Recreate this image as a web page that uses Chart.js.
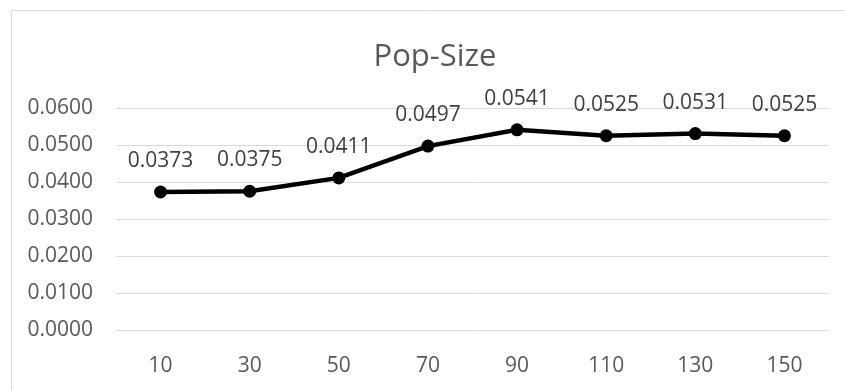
<!DOCTYPE html>
<html lang="en">
<head>
    <meta charset="UTF-8">
    <title>Pop-Size</title>
    <script src="https://cdn.jsdelivr.net/npm/chart.js"></script>
    <style>
        html, body {
            margin: 0;
            padding: 0;
            background: #ffffff;
        }
        .chart-container {
            position: relative;
            width: 845px;
            height: 390px;
        }
    </style>
</head>
<body>
    <div class="chart-container">
        <canvas id="popChart"></canvas>
    </div>

    <script>
        // Data
        const popSizes = ['10', '30', '50', '70', '90', '110', '130', '150'];
        const values = [0.0373, 0.0375, 0.0411, 0.0497, 0.0541, 0.0525, 0.0531, 0.0525];
        const yTicks = [0, 0.01, 0.02, 0.03, 0.04, 0.05, 0.06];
        const chartTitle = 'Pop-Size';

        const fontFamily = "'Open Sans', 'Liberation Sans', sans-serif";

        // Light frame (left and top edges) plus the title, placed like the Excel original
        const framePlugin = {
            id: 'frame',
            beforeDraw(chart) {
                const c = chart.ctx;
                c.save();
                c.strokeStyle = '#d9d9d9';
                c.lineWidth = 1;
                c.beginPath();
                c.moveTo(11.5, chart.height);
                c.lineTo(11.5, 10.5);
                c.lineTo(chart.width, 10.5);
                c.stroke();
                c.font = '31px ' + fontFamily;
                c.fillStyle = '#595959';
                c.textAlign = 'center';
                c.textBaseline = 'middle';
                c.fillText(chartTitle, (11 + chart.width) / 2 + 7, 57);
                c.restore();
            }
        };

        // Value labels above each point
        const valueLabels = {
            id: 'valueLabels',
            afterDatasetsDraw(chart) {
                const c = chart.ctx;
                const meta = chart.getDatasetMeta(0);
                c.save();
                c.font = '21px ' + fontFamily;
                c.fillStyle = '#404040';
                c.textAlign = 'center';
                c.textBaseline = 'middle';
                meta.data.forEach((pt, i) => {
                    c.fillText(values[i].toFixed(4), pt.x, pt.y - 31);
                });
                c.restore();
            }
        };

        const ctx = document.getElementById('popChart').getContext('2d');
        new Chart(ctx, {
            type: 'line',
            data: {
                labels: popSizes,
                datasets: [{
                    data: values,
                    borderColor: '#000000',
                    backgroundColor: '#000000',
                    borderWidth: 4.5,
                    pointRadius: 6.5,
                    pointHoverRadius: 6.5,
                    pointBackgroundColor: '#000000',
                    pointBorderWidth: 0,
                    tension: 0
                }]
            },
            options: {
                responsive: true,
                maintainAspectRatio: false,
                animation: false,
                layout: {
                    padding: { left: 0, right: 16, top: 108, bottom: 0 }
                },
                plugins: {
                    legend: { display: false },
                    tooltip: { enabled: false },
                    title: { display: false }
                },
                scales: {
                    x: {
                        offset: true,
                        grid: { display: false },
                        border: { display: false },
                        ticks: {
                            color: '#595959',
                            font: { family: fontFamily, size: 21 },
                            padding: 15
                        },
                        afterFit(scale) { scale.height = 60; }
                    },
                    y: {
                        min: 0,
                        max: 0.06,
                        afterBuildTicks(scale) {
                            scale.ticks = yTicks.map(v => ({ value: v }));
                        },
                        grid: {
                            color: '#d9d9d9',
                            lineWidth: 1,
                            drawTicks: false
                        },
                        border: { display: false },
                        ticks: {
                            color: '#595959',
                            font: { family: fontFamily, size: 21 },
                            padding: 23,
                            callback: v => Number(v).toFixed(4)
                        },
                        afterFit(scale) { scale.width = 116; }
                    }
                }
            },
            plugins: [framePlugin, valueLabels]
        });
    </script>
</body>
</html>
